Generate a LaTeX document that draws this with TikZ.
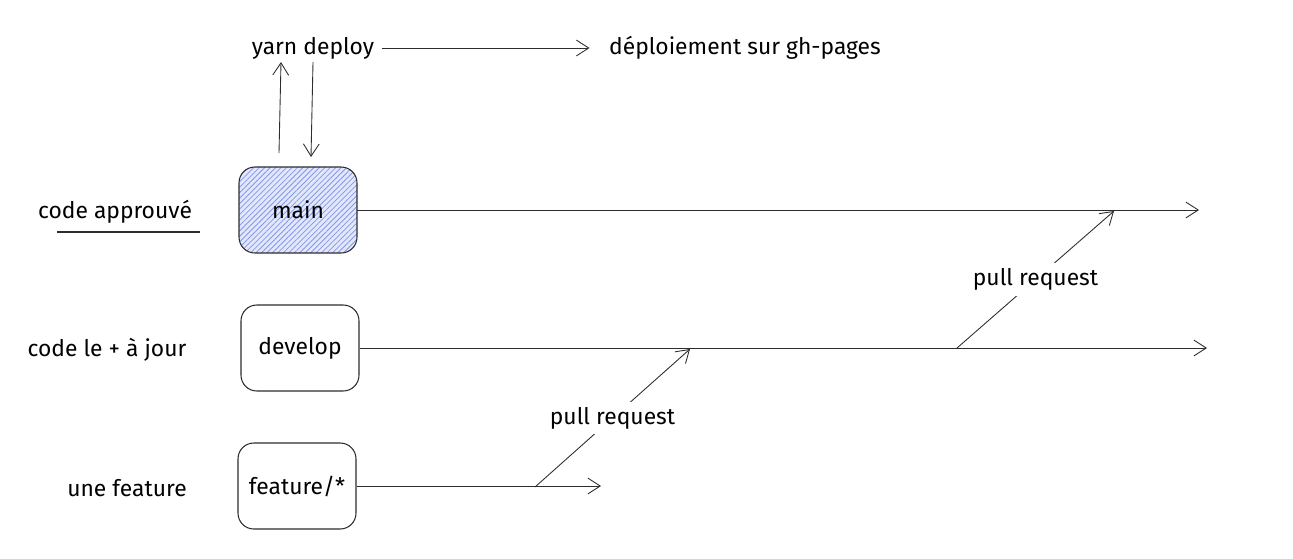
\documentclass[tikz,border=0pt]{standalone}
\usepackage{fontspec}
\setmainfont{Fira Sans}
\usepackage{tikz}
\usetikzlibrary{arrows.meta, positioning, calc, patterns.meta}

\definecolor{inkgray}{RGB}{45,45,45}
\definecolor{mainfill}{RGB}{226,231,252}
\definecolor{mainhatch}{RGB}{130,152,234}

\tikzset{
    branch/.style={draw=inkgray, rounded corners=9pt, minimum width=2.36cm, minimum height=1.72cm, font=\fontsize{13}{15}\selectfont, line width=0.6pt},
    lbl/.style={font=\fontsize{13}{15}\selectfont, text=black, inner sep=2pt},
    flow/.style={draw=inkgray, line width=0.5pt, -{Straight Barb[length=7pt, width=9pt]}}
}

\begin{document}
\begin{tikzpicture}[x=0.02cm, y=-0.02cm]
    % Canvas
    \useasboundingbox (0,0) rectangle (1293,558);

    % Branch boxes
    \node[branch, preaction={fill=mainfill}, pattern={Lines[angle=45, distance=2.2pt, line width=0.45pt]}, pattern color=mainhatch] (main) at (298,210) {main};
    \node[branch] (develop) at (300,348) {develop};
    \node[branch] (feature) at (297,486) {feature/*};

    % Row labels
    \node[lbl] (approuve) at (115,212) {code approuvé};
    \node[lbl] (ajour) at (107,350) {code le + à jour};
    \node[lbl] (unefeat) at (127,488) {une feature};
    \draw[inkgray, line width=0.6pt] (57,232) -- (200,232);

    % Deploy
    \node[lbl] (deploy) at (313,48) {yarn deploy};
    \node[lbl] (ghpages) at (745,48) {déploiement sur gh-pages};
    \draw[flow, shorten <=2pt, shorten >=9pt] (deploy) -- (ghpages);
    \coordinate (upfrom) at (279,153);
    \coordinate (downto) at (311,157);
    \draw[flow] (upfrom) -- (281,62);
    \draw[flow] (313,62) -- (downto);

    % Branch lines
    \coordinate (mainend) at (1199,206);
    \coordinate (devend) at (1207,348);
    \coordinate (featend) at (601,487);
    \draw[flow] (main) -- (main.east -| mainend);
    \draw[flow] (develop) -- (develop.east -| devend);
    \draw[flow] (feature) -- (feature.east -| featend);

    % Pull requests
    \coordinate (pr1from) at (535,487);
    \coordinate (pr1to) at (690,349);
    \coordinate (pr2from) at (957,348);
    \coordinate (pr2to) at (1114,211);
    \draw[flow] (pr1from) -- node[lbl, fill=white, inner sep=3pt] (pr1) {pull request} (pr1to);
    \draw[flow] (pr2from) -- node[lbl, fill=white, inner sep=3pt] (pr2) {pull request} (pr2to);
\end{tikzpicture}
\end{document}
